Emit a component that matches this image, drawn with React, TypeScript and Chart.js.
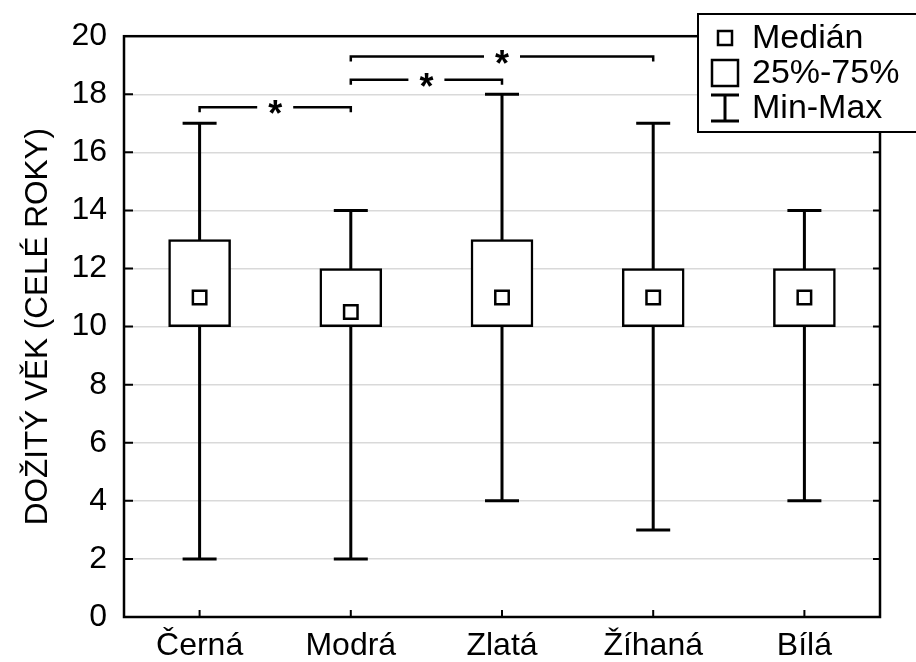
import { useEffect, useRef } from "react";
import { Chart, registerables } from "chart.js";

Chart.register(...registerables);

const categories = ["Černá", "Modrá", "Zlatá", "Žíhaná", "Bílá"];
const minValues = [2, 2, 4, 3, 4];
const q1Values = [10, 10, 10, 10, 10];
const medianValues = [11, 10.5, 11, 11, 11];
const q3Values = [13, 12, 13, 12, 12];
const maxValues = [17, 14, 18, 17, 14];
const yTickValues = [0, 2, 4, 6, 8, 10, 12, 14, 16, 18, 20];
const bracketFrom = [0, 1, 1];
const bracketTo = [1, 2, 3];
const bracketLevel = [17.55, 18.5, 19.3];
const bracketMark = ["*", "*", "*"];
const legendLabels = ["Medián", "25%-75%", "Min-Max"];
const yTitle = "DOŽITÝ VĚK (CELÉ ROKY)";

const FONT = "'Liberation Sans', Arial, sans-serif";

const boxPlugin = {
  id: "boxExtras",
  beforeDatasetsDraw(chart: any) {
    const { ctx, scales } = chart;
    const x = scales.x;
    const y = scales.y;
    ctx.save();
    ctx.strokeStyle = "#000";
    ctx.lineWidth = 3;
    categories.forEach((_, i) => {
      const px = x.getPixelForValue(i);
      const yMin = y.getPixelForValue(minValues[i]);
      const yMax = y.getPixelForValue(maxValues[i]);
      ctx.beginPath();
      ctx.moveTo(px, yMin);
      ctx.lineTo(px, yMax);
      ctx.moveTo(px - 17, yMin);
      ctx.lineTo(px + 17, yMin);
      ctx.moveTo(px - 17, yMax);
      ctx.lineTo(px + 17, yMax);
      ctx.stroke();
    });
    ctx.restore();
  },
  afterDatasetsDraw(chart: any) {
    const { ctx, scales, chartArea } = chart;
    const x = scales.x;
    const y = scales.y;
    const { left, right, top, bottom } = chartArea;
    ctx.save();
    ctx.strokeStyle = "#000";
    ctx.lineWidth = 2;
    ctx.beginPath();
    yTickValues.forEach((v) => {
      if (v === 0 || v === 20) return;
      const py = y.getPixelForValue(v);
      ctx.moveTo(left, py);
      ctx.lineTo(left + 9, py);
      ctx.moveTo(right, py);
      ctx.lineTo(right - 7, py);
    });
    categories.forEach((_, i) => {
      const px = x.getPixelForValue(i);
      ctx.moveTo(px, bottom);
      ctx.lineTo(px, bottom - 7);
    });
    ctx.stroke();
    ctx.lineWidth = 2.5;
    ctx.strokeRect(left, top, right - left, bottom - top);
    ctx.lineWidth = 2.5;
    ctx.font = `bold 36px ${FONT}`;
    ctx.fillStyle = "#000";
    ctx.textAlign = "center";
    ctx.textBaseline = "alphabetic";
    bracketFrom.forEach((a, k) => {
      const x1 = x.getPixelForValue(a);
      const x2 = x.getPixelForValue(bracketTo[k]);
      const py = y.getPixelForValue(bracketLevel[k]);
      const drop = y.getPixelForValue(bracketLevel[k] - 0.17);
      const mid = (x1 + x2) / 2;
      const gap = 18;
      ctx.beginPath();
      ctx.moveTo(x1, drop);
      ctx.lineTo(x1, py);
      ctx.lineTo(mid - gap, py);
      ctx.moveTo(mid + gap, py);
      ctx.lineTo(x2, py);
      ctx.lineTo(x2, drop);
      ctx.stroke();
      ctx.fillText(bracketMark[k], mid, py + 19);
    });
    ctx.restore();
  },
  afterDraw(chart: any) {
    const { ctx } = chart;
    ctx.save();
    ctx.fillStyle = "#fff";
    ctx.strokeStyle = "#000";
    ctx.lineWidth = 2;
    ctx.fillRect(698, 14, 240, 118);
    ctx.strokeRect(698, 14, 240, 118);
    const cx = 725;
    const rows = [38, 73, 108];
    ctx.lineWidth = 2.5;
    ctx.strokeRect(cx - 7, rows[0] - 7, 14, 14);
    ctx.strokeRect(cx - 13, rows[1] - 13, 26, 26);
    ctx.lineWidth = 3;
    ctx.beginPath();
    ctx.moveTo(cx - 14, rows[2] - 13);
    ctx.lineTo(cx + 14, rows[2] - 13);
    ctx.moveTo(cx, rows[2] - 13);
    ctx.lineTo(cx, rows[2] + 13);
    ctx.moveTo(cx - 14, rows[2] + 13);
    ctx.lineTo(cx + 14, rows[2] + 13);
    ctx.stroke();
    ctx.fillStyle = "#000";
    ctx.font = `34px ${FONT}`;
    ctx.textAlign = "left";
    ctx.textBaseline = "middle";
    legendLabels.forEach((t, i) => ctx.fillText(t, 752, rows[i] + 1));
    ctx.restore();
  },
};

export default function App() {
  const ref = useRef<HTMLCanvasElement | null>(null);
  useEffect(() => {
    document.body.style.margin = "0";
    const canvas = ref.current!;
    const chart = new Chart(canvas, {
      type: "bar",
      data: {
        labels: categories,
        datasets: [
          {
            type: "bar",
            label: "25%-75%",
            data: categories.map((_, i) => [q1Values[i], q3Values[i]]) as any,
            backgroundColor: "#fff",
            borderColor: "#000",
            borderWidth: 2.5,
            borderSkipped: false,
            barThickness: 62,
            order: 2,
          } as any,
          {
            type: "line",
            label: "Medián",
            data: medianValues,
            showLine: false,
            pointStyle: "rect",
            pointRadius: 9.5,
            pointBorderWidth: 2.5,
            pointBackgroundColor: "#fff",
            pointBorderColor: "#000",
            order: 1,
          } as any,
        ],
      },
      options: {
        responsive: false,
        animation: false,
        events: [],
        layout: { padding: { top: 35, right: 36, left: 0, bottom: 0 } },
        plugins: { legend: { display: false }, tooltip: { enabled: false } },
        scales: {
          x: {
            offset: true,
            grid: { display: false, drawTicks: false },
            border: { display: false },
            ticks: { color: "#000", font: { family: FONT, size: 32 }, padding: 10 },
            afterFit: (s: any) => {
              s.height = 45;
            },
          },
          y: {
            min: 0,
            max: 20,
            afterBuildTicks: (s: any) => {
              s.ticks = yTickValues.map((v) => ({ value: v }));
            },
            grid: { color: "#d9d9d9", lineWidth: 1.5, drawTicks: false },
            border: { display: false },
            ticks: { color: "#000", font: { family: FONT, size: 32 }, padding: 17 },
            title: {
              display: true,
              text: yTitle,
              color: "#000",
              font: { family: FONT, size: 31.5 },
              padding: { top: 19, bottom: 0 },
            },
            afterFit: (s: any) => {
              s.width = 124;
            },
          },
        },
      },
      plugins: [boxPlugin],
    });
    return () => chart.destroy();
  }, []);
  return <canvas ref={ref} width={916} height={662} style={{ display: "block" }} />;
}
